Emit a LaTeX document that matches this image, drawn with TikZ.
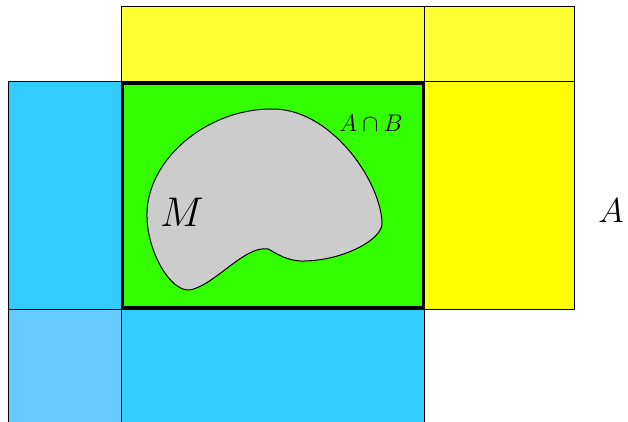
\documentclass[tikz,border=0pt]{standalone}
\definecolor{yelA}{HTML}{FFFF33}
\definecolor{yelB}{HTML}{FFFF00}
\definecolor{bluA}{HTML}{33CCFF}
\definecolor{bluB}{HTML}{66CCFF}
\definecolor{grn}{HTML}{33FF00}
\definecolor{gry}{HTML}{CCCCCC}
\begin{document}
\begin{tikzpicture}[x=0.5pt,y=-0.5pt,
  cell/.style={draw=black,line width=0.5pt},
  lbl/.style={inner sep=0pt,anchor=center}]
\useasboundingbox (0,0) rectangle (628,422);
\clip (0,0) rectangle (628,422);
% yellow set
\fill[yelA,cell] (121,7) rectangle (424,82);
\fill[yelA,cell] (424,7) rectangle (574,82);
\fill[yelB,cell] (424,82) rectangle (574,310);
% blue set
\fill[bluA,cell] (8,82) rectangle (121,310);
\fill[bluB,cell] (8,310) rectangle (121,430);
\fill[bluA,cell] (121,310) rectangle (424,430);
% intersection
\fill[grn,draw=black,line width=1.5pt] (122,84) rectangle (423,308);
% blob M
\draw[fill=gry,line width=0.5pt]
  (270,109) .. controls (330,107) and (380,180) .. (382,222)
  .. controls (384,240) and (340,262) .. (300,261)
  .. controls (285,260) and (276,253) .. (268,249)
  .. controls (245,245) and (215,285) .. (190,290)
  .. controls (170,292) and (146,250) .. (147,213)
  .. controls (148,160) and (205,110) .. cycle;
\node[lbl,font=\fontsize{19.8}{22}\selectfont] (m) at (182,212) {$M$};
\node[lbl,font=\fontsize{12.4}{14}\selectfont] (ab) at (371,123) {$A\cap B$};
\node[lbl,font=\fontsize{18.3}{21}\selectfont] (a) at (611,211) {$A$};
\end{tikzpicture}
\end{document}
